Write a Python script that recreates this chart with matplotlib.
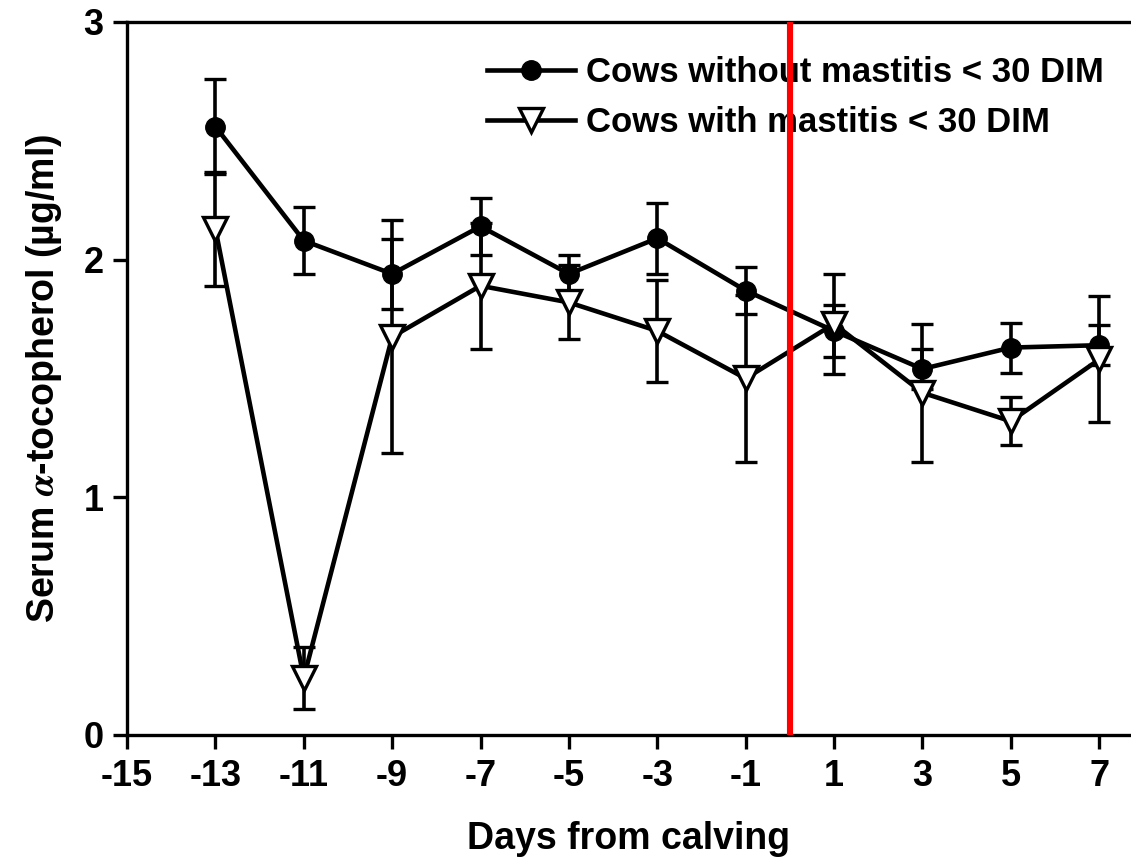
import matplotlib
matplotlib.use("Agg")
import matplotlib.pyplot as plt
from matplotlib.lines import Line2D

plt.rcParams['font.family'] = ['Liberation Sans', 'DejaVu Sans']
plt.rcParams['font.weight'] = 'bold'
plt.rcParams['mathtext.fontset'] = 'stix'
plt.rcParams['axes.unicode_minus'] = False

# serum alpha-tocopherol by day relative to calving (mean and SEM)
days = [-13, -11, -9, -7, -5, -3, -1, 1, 3, 5, 7]
without_mastitis = [2.56, 2.08, 1.94, 2.14, 1.94, 2.09, 1.87, 1.70, 1.54, 1.63, 1.64]
without_sem = [0.20, 0.14, 0.146, 0.12, 0.08, 0.15, 0.10, 0.11, 0.085, 0.105, 0.085]
with_mastitis = [2.13, 0.24, 1.675, 1.89, 1.82, 1.70, 1.50, 1.73, 1.44, 1.32, 1.58]
with_sem = [0.24, 0.13, 0.49, 0.265, 0.156, 0.215, 0.353, 0.21, 0.29, 0.10, 0.265]

xticks = [-15, -13, -11, -9, -7, -5, -3, -1, 1, 3, 5, 7]
yticks = [0, 1, 2, 3]
calving_day = 0
labels = ['Cows without mastitis < 30 DIM', 'Cows with mastitis < 30 DIM']

fig = plt.figure(figsize=(11.31, 8.59), dpi=100)
ax = fig.add_axes([0.1123, 0.1444, 0.8877, 0.83])

lw = 3.3
circle_style = dict(marker='o', markersize=14, markerfacecolor='black',
                    markeredgecolor='black')
tri_style = dict(marker='v', markersize=17, markerfacecolor='white',
                 markeredgecolor='black', markeredgewidth=2.4)

ax.errorbar(days, without_mastitis, yerr=without_sem, color='black', lw=lw,
            elinewidth=2.6, capsize=8, capthick=2.4, zorder=3, **circle_style)
ax.errorbar(days, with_mastitis, yerr=with_sem, color='black', lw=lw,
            elinewidth=2.6, capsize=8, capthick=2.4, zorder=4, **tri_style)

# calving day marker
ax.axvline(calving_day, color='#ff0000', lw=4.4, zorder=10)

ax.set_xlim(-15, 7.72)
ax.set_ylim(0, 3)
ax.set_xticks(xticks)
ax.set_yticks(yticks)
ax.tick_params(axis='both', direction='out', length=10, width=2.4,
               labelsize=26, pad=7)
for side in ['left', 'bottom', 'top']:
    ax.spines[side].set_linewidth(2.4)
ax.spines['right'].set_visible(False)

ax.set_xlabel('Days from calving', fontsize=27, fontweight='bold', labelpad=20)
ax.set_ylabel(r'Serum $\alpha$-tocopherol (µg/ml)', fontsize=27,
              fontweight='bold', labelpad=14)

handles = [Line2D([], [], color='black', lw=lw, **circle_style),
           Line2D([], [], color='black', lw=lw, **tri_style)]
ax.legend(handles, labels, loc='upper left',
          bbox_to_anchor=(487 / 1131, 1 - 56 / 859),
          bbox_transform=fig.transFigure, frameon=False, fontsize=25,
          handlelength=2.54, handletextpad=0.3, labelspacing=0.5,
          borderpad=0, borderaxespad=0)

fig.savefig('out.png', dpi=100)
